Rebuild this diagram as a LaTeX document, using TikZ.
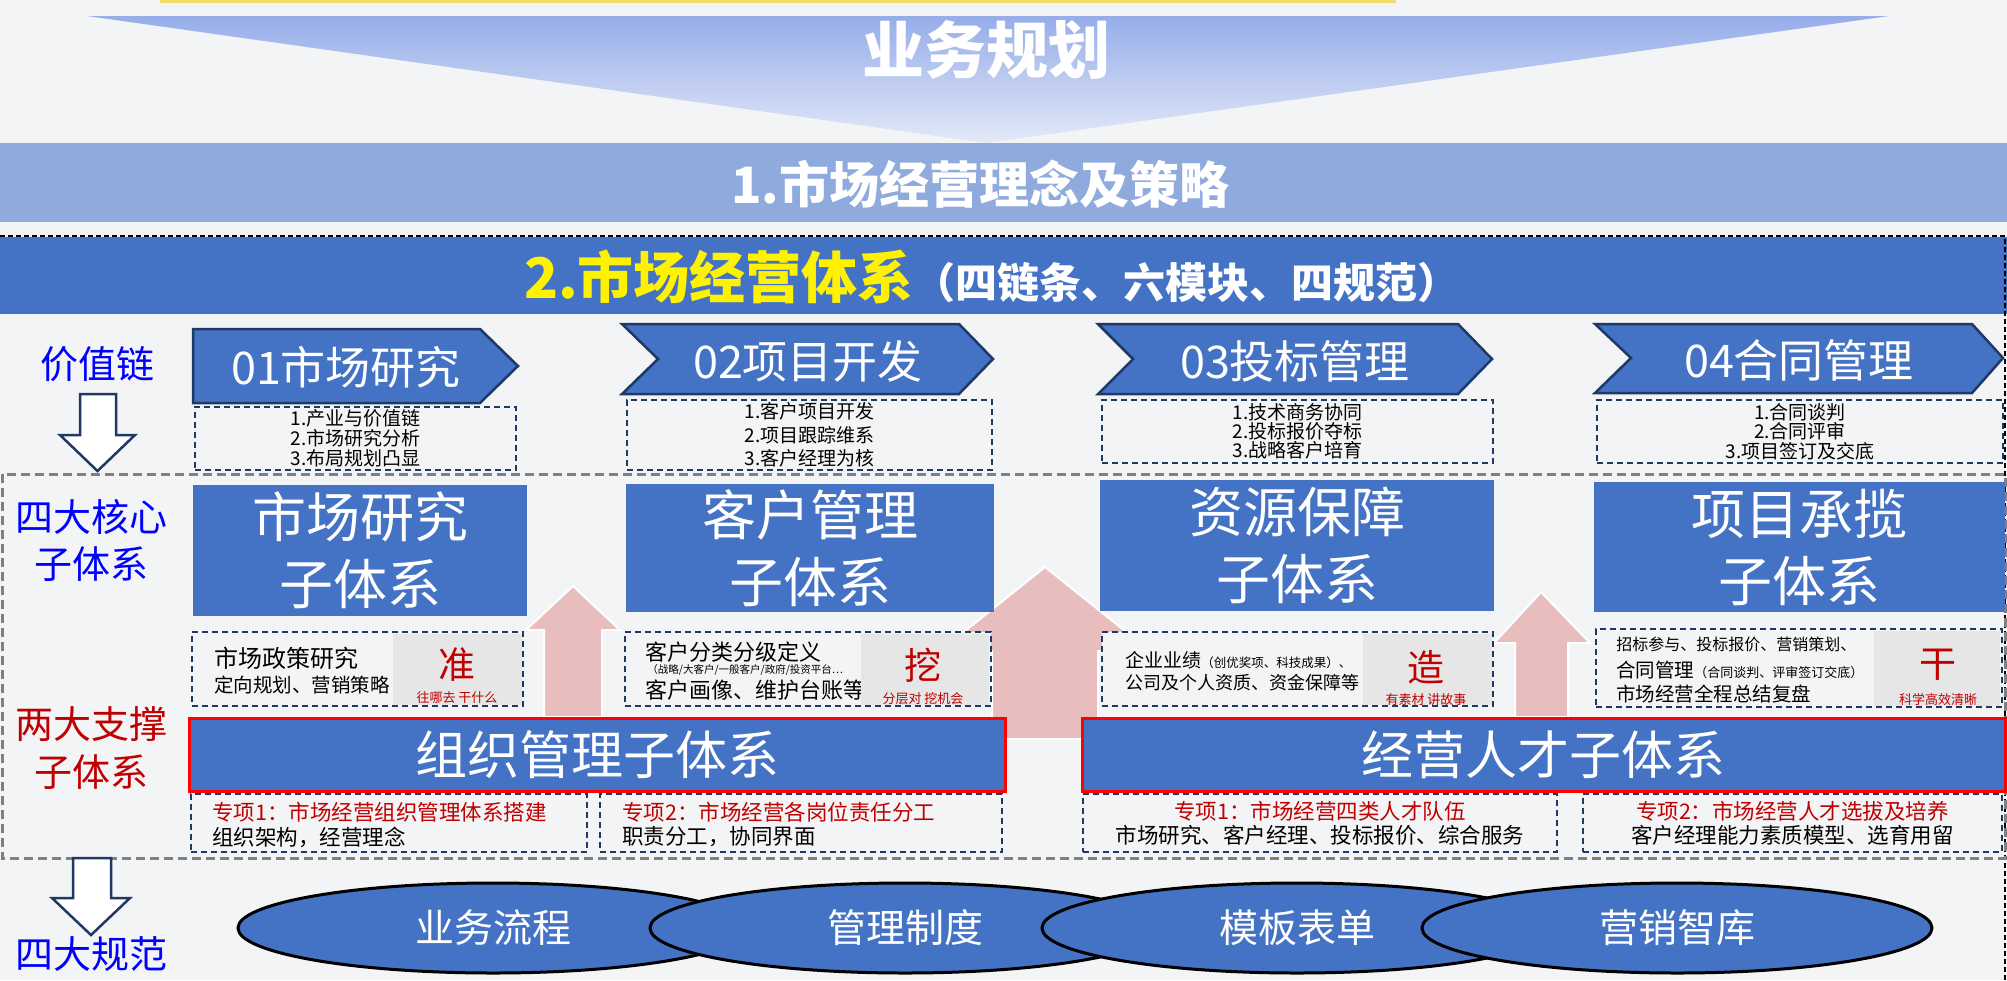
\documentclass[tikz,border=0pt]{standalone}
\usepackage{fontspec}
\setmainfont{Noto Sans CJK SC}
\usepackage{xcolor}
\usepackage{tikz}
\usetikzlibrary{shapes.geometric,positioning}

\definecolor{mainblue}{HTML}{4472C4}
\definecolor{navy}{HTML}{1F3864}
\definecolor{bandblue}{HTML}{8FAADC}
\definecolor{tritop}{HTML}{96ADE9}
\definecolor{tribot}{HTML}{E3E9F8}
\definecolor{pinkarrow}{HTML}{E8BDBE}
\definecolor{darkred}{HTML}{C00000}
\definecolor{bggray}{HTML}{F3F4F5}
\definecolor{boxgray}{HTML}{E6E6E6}
\definecolor{labelblue}{HTML}{0000FF}
\definecolor{topyellow}{HTML}{F2DC6B}
\definecolor{dashgray}{HTML}{808080}

\begin{document}
\begin{tikzpicture}[
x=1pt, y=-1pt, thick,
core-node/.style = {fill=mainblue, text=white, align=center, inner sep=0pt, font=\fontsize{54}{67}\selectfont},
chev-path/.style = {fill=mainblue, draw=navy, line width=2.5pt},
chev-text/.style = {text=white, inner sep=0pt, font=\fontsize{45}{45}\selectfont},
list-box/.style = {draw=navy, line width=1.8pt, dash pattern=on 6pt off 4pt, align=center, inner sep=0pt, font=\fontsize{19}{20}\selectfont},
sup-box/.style = {fill=bggray, draw=navy, line width=1.8pt, dash pattern=on 6pt off 4pt, inner sep=0pt},
gray-box/.style = {fill=boxgray, inner sep=0pt},
key-char/.style = {text=darkred, inner sep=0pt, font=\fontsize{37}{37}\selectfont},
key-sub/.style = {text=darkred, inner sep=0pt, font=\fontsize{13}{13}\selectfont},
org-node/.style = {fill=mainblue, draw=red, line width=3pt, text=white, inner sep=0pt, font=\fontsize{52}{52}\selectfont},
task-box/.style = {draw=navy, line width=1.8pt, dash pattern=on 6pt off 4pt, align=center, inner sep=0pt, font=\fontsize{21.5}{24}\selectfont},
task-text/.style = {anchor=west, inner sep=0pt, font=\fontsize{21.5}{24}\selectfont},
norm-node/.style = {ellipse, fill=mainblue, draw=black, line width=3pt, minimum width=510pt, minimum height=90pt, text=white, inner sep=0pt, font=\fontsize{39}{39}\selectfont},
side-blue/.style = {text=labelblue, align=center, inner sep=0pt, font=\fontsize{38}{47}\selectfont},
side-red/.style = {text=darkred, align=center, inner sep=0pt, font=\fontsize{38}{48}\selectfont},
pink-arrow/.style = {fill=pinkarrow, draw=white, line width=2pt},
hollow-arrow/.style = {fill=white, draw=navy, line width=2.5pt, line join=miter}
]

\useasboundingbox (0,0) rectangle (2007,980);
\fill[bggray] (0,0) rectangle (2007,980);

% top
\fill[topyellow] (160,0) rectangle (1396,3);
\shade[top color=tritop, bottom color=tribot] (87,16) -- (1889,16) -- (986,143) -- cycle;
\node[text=white, font=\fontsize{62}{62}\selectfont\bfseries] (plan) at (986,50) {业务规划};

\node[fill=bandblue, minimum width=2007pt, minimum height=79pt, inner sep=0pt] (band1) at (1003.5,182.5) {};
\node[text=white, font=\fontsize{50}{50}\selectfont\bfseries] (band1-text) at (980,184) {1.市场经营理念及策略};

\node[fill=mainblue, minimum width=2007pt, minimum height=77pt, inner sep=0pt] (band2) at (1003.5,275.5) {};
\node[font=\bfseries] (band2-text) at (992,277) {{\color{yellow}\fontsize{56}{56}\selectfont 2.市场经营体系}{\color{white}\fontsize{42}{42}\selectfont （四链条、六模块、四规范）}};
\draw[black, line width=2.5pt, dash pattern=on 5pt off 3pt] (0,236) -- (2005,236) -- (2005,980);

% left labels
\node[side-blue] (chain) at (97,364) {价值链};
\node[side-blue] (core) at (91,540) {四大核心\\子体系};
\node[side-red] (support) at (91,748) {两大支撑\\子体系};
\node[side-blue] (norms) at (92,954) {四大规范};

% value chain
\draw[chev-path] (193,329) -- (480,329) -- (518,366) -- (480,403) -- (193,403) -- cycle;
\draw[chev-path] (622,324) -- (959,324) -- (993,359) -- (959,394) -- (622,394) -- (658,359) -- cycle;
\draw[chev-path] (1098,324) -- (1458,324) -- (1492,359) -- (1458,394) -- (1098,394) -- (1133,359) -- cycle;
\draw[chev-path] (1595,324) -- (1972,324) -- (2003,358) -- (1972,393) -- (1595,393) -- (1631,358) -- cycle;
\node[chev-text] (ch1) at (346,367) {01市场研究};
\node[chev-text] (ch2) at (808,361) {02项目开发};
\node[chev-text] (ch3) at (1295,361) {03投标管理};
\node[chev-text] (ch4) at (1799,360) {04合同管理};

\node[list-box, minimum width=321pt, minimum height=63pt] (l1) at (355.5,438.5) {1.产业与价值链\\2.市场研究分析\\3.布局规划凸显};
\node[list-box, minimum width=365pt, minimum height=70pt, font=\fontsize{19}{23.5}\selectfont] (l2) at (809.5,435) {1.客户项目开发\\2.项目跟踪维系\\3.客户经理为核};
\node[list-box, minimum width=391pt, minimum height=63pt, font=\fontsize{19}{19}\selectfont] (l3) at (1297.5,431.5) {1.技术商务协同\\2.投标报价夺标\\3.战略客户培育};
\node[list-box, minimum width=406pt, minimum height=63pt, font=\fontsize{19}{19.5}\selectfont] (l4) at (1800,431.5) {1.合同谈判\\2.合同评审\\3.项目签订及交底};

\draw[dashgray, line width=3pt, dash pattern=on 9pt off 5pt] (2,474) rectangle (2005,858);

% arrows
\draw[pink-arrow] (544,717) -- (544,630) -- (526,630) -- (573,586) -- (620,630) -- (602,630) -- (602,717) -- cycle;
\draw[pink-arrow] (992,739) -- (992,651) -- (940,651) -- (1045,567) -- (1150,651) -- (1098,651) -- (1098,739) -- cycle;
\draw[pink-arrow] (1515,717) -- (1515,643) -- (1494,643) -- (1541,592) -- (1590,643) -- (1568,643) -- (1568,717) -- cycle;

% core subsystems
\node[core-node, minimum width=334pt, minimum height=131pt] (c1) at (360,550.5) {市场研究\\子体系};
\node[core-node, minimum width=368pt, minimum height=128pt] (c2) at (810,548) {客户管理\\子体系};
\node[core-node, minimum width=394pt, minimum height=131pt] (c3) at (1297,545.5) {资源保障\\子体系};
\node[core-node, minimum width=411pt, minimum height=130pt] (c4) at (1799.5,547) {项目承揽\\子体系};

% support subsystems
\node[org-node, minimum width=816pt, minimum height=73pt] (o1) at (597,754.5) {组织管理子体系};
\node[org-node, minimum width=923pt, minimum height=73pt] (o2) at (1543.5,754.5) {经营人才子体系};

% detail boxes
\node[sup-box, minimum width=331pt, minimum height=74pt] (s1) at (357.5,669) {};
\node[anchor=west, inner sep=0pt, font=\fontsize{24}{24}\selectfont] (s1-a) at (214,658) {市场政策研究};
\node[anchor=west, inner sep=0pt, font=\fontsize{19.5}{20}\selectfont] (s1-b) at (214,685) {定向规划、营销策略};
\node[gray-box, minimum width=129pt, minimum height=71pt] (g1) at (457,669) {};
\node[key-char] (k1) at (457,665) {准};
\node[key-sub] (k1-sub) at (457,698) {往哪去 干什么};

\node[sup-box, minimum width=366pt, minimum height=74pt] (s2) at (808,669) {};
\node[anchor=west, inner sep=0pt, font=\fontsize{22}{22}\selectfont] (s2-a) at (645,652) {客户分类分级定义};
\node[anchor=west, inner sep=0pt, font=\fontsize{10.5}{11}\selectfont] (s2-b) at (647,670) {（战略/大客户/一般客户/政府/投资平台…};
\node[anchor=west, inner sep=0pt, font=\fontsize{22}{22}\selectfont] (s2-c) at (645,690) {客户画像、维护台账等};
\node[gray-box, minimum width=128pt, minimum height=71pt] (g2) at (925,669) {};
\node[key-char] (k2) at (923,665) {挖};
\node[key-sub] (k2-sub) at (923,699) {分层对 挖机会};

\node[sup-box, minimum width=391pt, minimum height=74pt] (s3) at (1297.5,669) {};
\node[anchor=west, inner sep=0pt] (s3-a) at (1125,660) {\fontsize{19}{19}\selectfont 企业业绩\fontsize{12.5}{13}\selectfont （创优奖项、科技成果）、};
\node[anchor=west, inner sep=0pt, font=\fontsize{18}{18}\selectfont] (s3-b) at (1125,683) {公司及个人资质、资金保障等};
\node[gray-box, minimum width=129pt, minimum height=71pt] (g3) at (1427,669) {};
\node[key-char] (k3) at (1426,667) {造};
\node[key-sub] (k3-sub) at (1426,700) {有素材 讲故事};

\node[sup-box, minimum width=406pt, minimum height=78pt] (s4) at (1799,668) {};
\node[anchor=west, inner sep=0pt, font=\fontsize{16}{16}\selectfont] (s4-a) at (1616,644) {招标参与、投标报价、营销策划、};
\node[anchor=west, inner sep=0pt] (s4-b) at (1616,670) {\fontsize{19.5}{20}\selectfont 合同管理\fontsize{13}{13}\selectfont （合同谈判、评审签订交底）};
\node[anchor=west, inner sep=0pt, font=\fontsize{19.5}{20}\selectfont] (s4-c) at (1616,694) {市场经营全程总结复盘};
\node[gray-box, minimum width=126pt, minimum height=75pt] (g4) at (1937,668) {};
\node[key-char] (k4) at (1938,665) {干};
\node[key-sub] (k4-sub) at (1938,700) {科学高效清晰};

% special tasks
\node[task-box, minimum width=396pt, minimum height=58pt] (p1) at (389,823) {};
\node[task-text, text=darkred] (p1-a) at (212,812) {专项1：市场经营组织管理体系搭建};
\node[task-text] (p1-b) at (212,837) {组织架构，经营理念};
\node[task-box, minimum width=402pt, minimum height=58pt] (p2) at (801,823) {};
\node[task-text, text=darkred] (p2-a) at (622,812) {专项2：市场经营各岗位责任分工};
\node[task-text] (p2-b) at (622,837) {职责分工，协同界面};
\node[task-box, minimum width=474pt, minimum height=58pt] (p3) at (1320,823) {{\color{darkred}专项1：市场经营四类人才队伍}\\市场研究、客户经理、投标报价、综合服务};
\node[task-box, minimum width=419pt, minimum height=58pt] (p4) at (1792.5,823) {{\color{darkred}专项2：市场经营人才选拔及培养}\\客户经理能力素质模型、选育用留};

% hollow arrows
\draw[hollow-arrow] (80,394) -- (116,394) -- (116,435) -- (135,435) -- (97.5,471) -- (60,435) -- (80,435) -- cycle;
\draw[hollow-arrow] (73,858) -- (111,858) -- (111,898) -- (130,898) -- (91,935) -- (52,898) -- (73,898) -- cycle;

% norms
\node[norm-node] (e1) at (493,928) {业务流程};
\node[norm-node] (e2) at (905,928) {管理制度};
\node[norm-node] (e3) at (1297,928) {模板表单};
\node[norm-node] (e4) at (1677,928) {营销智库};

\end{tikzpicture}
\end{document}
